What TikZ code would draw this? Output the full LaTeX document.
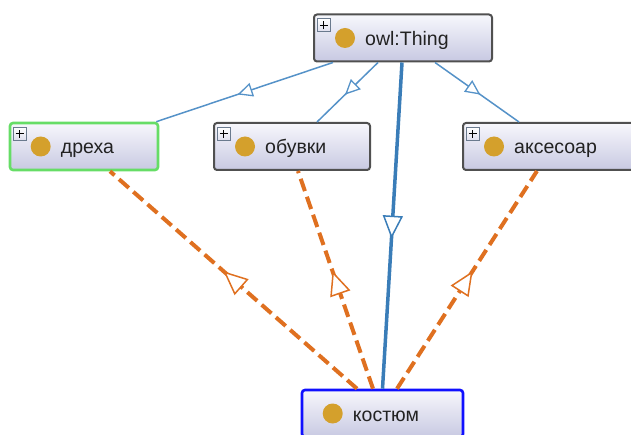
\documentclass[tikz,border=0pt]{standalone}
\usepackage{fontspec}
\setmainfont{Liberation Sans}
\usetikzlibrary{arrows.meta,decorations.markings,calc}
\definecolor{boxgray}{HTML}{505050}
\definecolor{boxtop}{HTML}{F7F7FC}
\definecolor{boxbot}{HTML}{C8C9E2}
\definecolor{selgreen}{HTML}{66DD66}
\definecolor{selblue}{HTML}{1010FF}
\definecolor{dotgold}{HTML}{D4A02C}
\definecolor{thinblue}{HTML}{5592C8}
\definecolor{thickblue}{HTML}{3A7DB8}
\definecolor{relorange}{HTML}{DF7020}
\definecolor{txtdark}{HTML}{222222}
\definecolor{plusedge}{HTML}{6A7A8E}
\tikzset{
  clsbox/.style={rectangle, rounded corners=3pt, draw=boxgray, line width=2pt,
    top color=boxtop, bottom color=boxbot, minimum height=47pt, inner sep=0pt},
  selbox/.style={line width=2.6pt},
  golddot/.style={circle, fill=dotgold, minimum size=20pt, inner sep=0pt},
  clslabel/.style={font=\fontsize{19.5}{22}\selectfont, text=txtdark, inner sep=0pt},
  plusbox/.style={rectangle, draw=plusedge, line width=0.8pt, top color=white, bottom color=boxbot!60,
    minimum size=13pt, inner sep=0pt},
  thinedge/.style={draw=thinblue, line width=1.5pt, postaction={decorate},
    decoration={markings, mark=at position 0.54 with {\arrow{Triangle[open, fill=white, length=15pt, width=14pt, line width=1.3pt]}}}},
  thickedge/.style={draw=thickblue, line width=3.5pt, postaction={decorate},
    decoration={markings, mark=at position 0.54 with {\arrow{Triangle[open, fill=white, length=23pt, width=20pt, line width=1.5pt]}}}},
  reledge/.style={draw=relorange, line width=4pt, dash pattern=on 13pt off 6pt, postaction={decorate},
    decoration={markings, mark=at position 0.54 with {\arrow{Triangle[open, fill=white, length=24pt, width=21pt, line width=1.5pt]}}}},
}
\newcommand{\clsnode}[8]{%
  \node[clsbox, draw=#6, minimum width=#4, #8] (#1) at (#2,#3) {};
  \node[golddot] (#1-dot) at ([xshift=32pt]#1.west) {};
  \node[clslabel, anchor=base west] (#1-txt) at ([xshift=52pt, yshift=-7.5pt]#1.west) {#5};
  \ifnum#7=1
    \node[plusbox, anchor=north west] (#1-plus) at ([xshift=4pt, yshift=-5pt]#1.north west) {};
    \draw[line width=1.1pt, black] ([xshift=-4pt]#1-plus.center) -- ([xshift=4pt]#1-plus.center)
      ([yshift=-4pt]#1-plus.center) -- ([yshift=4pt]#1-plus.center);
  \fi
}
\begin{document}
\begin{tikzpicture}[x=1pt, y=-1pt]
\useasboundingbox (0,0) rectangle (631,435);
\clip (0,0) rectangle (631,435);
\clsnode{thing}{403}{38}{178pt}{owl:Thing}{boxgray}{1}{}
\clsnode{dreha}{84}{146.5}{148pt}{дреха}{selgreen}{1}{selbox}
\clsnode{obuvki}{292}{146.5}{156pt}{обувки}{boxgray}{1}{}
\clsnode{aks}{554}{146.5}{182pt}{аксесоар}{boxgray}{1}{}
\clsnode{kost}{382.5}{413.5}{161pt}{костюм}{selblue}{0}{selbox}
\draw[thinedge] ([xshift=-70pt]thing.south) -- ([xshift=-3pt]dreha.north east);
\draw[thinedge] ([xshift=-25pt]thing.south) -- ([xshift=25pt]obuvki.north);
\draw[thinedge] ([xshift=32pt]thing.south) -- ([xshift=57pt]aks.north west);
\draw[thickedge] ([xshift=-1pt]thing.south) -- (kost.north);
\draw[reledge] ([xshift=-25.5pt]kost.north) -- ([xshift=26pt]dreha.south);
\draw[reledge] ([xshift=-9.5pt]kost.north) -- ([xshift=6pt]obuvki.south);
\draw[reledge] ([xshift=14.5pt]kost.north) -- ([xshift=75pt]aks.south west);
\end{tikzpicture}
\end{document}
